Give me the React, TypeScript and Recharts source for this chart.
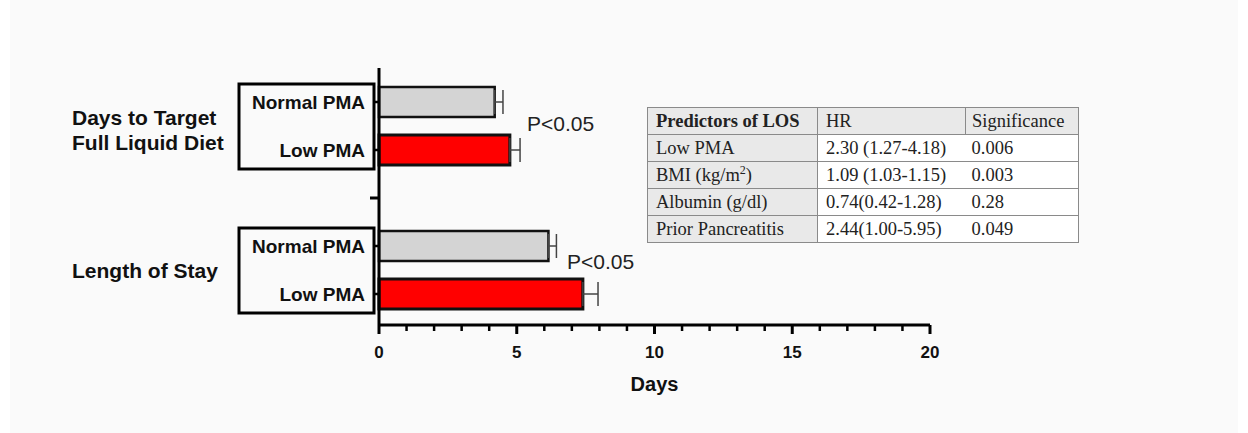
import React from "react";
import {
  BarChart,
  Bar,
  XAxis,
  YAxis,
  Cell,
  ErrorBar,
} from "recharts";

// rows top to bottom; the blank row separates the two outcome groups
const rowIds = ["dtfld-normal", "dtfld-low", "gap", "los-normal", "los-low"];
const rowLabels = ["Normal PMA", "Low PMA", "", "Normal PMA", "Low PMA"];
const meanDays = [4.2, 4.75, null, 6.15, 7.4];
const semDays = [0.3, 0.37, null, 0.29, 0.55];
const groupTitles: Record<number, string[]> = {
  0: ["Days to Target", "Full Liquid Diet"],
  3: ["Length of Stay"],
};
const dayTicks = [0, 1, 2, 3, 4, 5, 6, 7, 8, 9, 10, 11, 12, 13, 14, 15, 16, 17, 18, 19, 20];
const majorTicks = [0, 5, 10, 15, 20];
const pLabels = ["P<0.05", "P<0.05"];

const tableHeader = ["Predictors of LOS", "HR", "Significance"];
const tablePredictors = ["Low PMA", "BMI (kg/m²)", "Albumin (g/dl)", "Prior Pancreatitis"];
const tableHR = ["2.30 (1.27-4.18)", "1.09 (1.03-1.15)", "0.74(0.42-1.28)", "2.44(1.00-5.95)"];
const tableSig = ["0.006", "0.003", "0.28", "0.049"];

const data = rowIds.map((id, i) => ({
  id,
  days: meanDays[i],
  err: semDays[i] == null ? null : [0, semDays[i]],
}));

const SANS = "'Liberation Sans', Arial, sans-serif";
const SERIF = "'Liberation Serif', 'Times New Roman', serif";

function DayTick(props: any) {
  const { x, y, payload } = props;
  const major = majorTicks.includes(payload.value);
  return (
    <g>
      <line x1={x} y1={y} x2={x} y2={y + (major ? 9 : 6)} stroke="#000" strokeWidth={major ? 3 : 2.5} />
      {major && (
        <text x={x} y={y + 27} textAnchor="middle" dominantBaseline="central" fontFamily={SANS} fontWeight={700} fontSize={17} fill="#111">
          {payload.value}
        </text>
      )}
    </g>
  );
}

function RowTick(props: any) {
  const { x, y, index } = props;
  const label = rowLabels[index];
  const titles = groupTitles[index];
  if (!label) {
    return <line x1={x - 9} y1={y} x2={x} y2={y} stroke="#000" strokeWidth={3} />;
  }
  return (
    <g>
      {titles && (
        <g>
          <rect x={x - 140} y={y - 18} width={135} height={85} fill="none" stroke="#000" strokeWidth={3} />
          {titles.map((t, k) => (
            <text
              key={t}
              x={x - 307}
              y={y + 24 + (k - (titles.length - 1) / 2) * 25 + (titles.length > 1 ? 4 : 0)}
              dominantBaseline="central"
              fontFamily={SANS}
              fontWeight={700}
              fontSize={21}
              fill="#111"
            >
              {t}
            </text>
          ))}
        </g>
      )}
      <line x1={x - 5} y1={y} x2={x} y2={y} stroke="#000" strokeWidth={2.5} />
      <text x={x - 14} y={y} textAnchor="end" dominantBaseline="central" fontFamily={SANS} fontWeight={700} fontSize={19} fill="#111">
        {label}
      </text>
    </g>
  );
}

const cellStyle: React.CSSProperties = {
  border: "1px solid #8a8a8a",
  padding: "0 0 0 8px",
  height: 27,
  whiteSpace: "nowrap",
  overflow: "hidden",
  boxSizing: "border-box",
};

function PredictorTable() {
  return (
    <table
      style={{
        position: "absolute",
        left: 647,
        top: 107,
        width: 431,
        tableLayout: "fixed",
        borderCollapse: "collapse",
        fontFamily: SERIF,
        fontSize: 18.5,
        color: "#222",
        border: "1.5px solid #555",
      }}
    >
      <colgroup>
        <col style={{ width: 170 }} />
        <col style={{ width: 148 }} />
        <col style={{ width: 113 }} />
      </colgroup>
      <thead>
        <tr style={{ background: "#e9e9e9", height: 27 }}>
          <th style={{ ...cellStyle, textAlign: "left", fontWeight: 700 }}>{tableHeader[0]}</th>
          <th style={{ ...cellStyle, textAlign: "left", fontWeight: 400 }}>{tableHeader[1]}</th>
          <th style={{ ...cellStyle, textAlign: "left", fontWeight: 400, paddingLeft: 6 }}>{tableHeader[2]}</th>
        </tr>
      </thead>
      <tbody>
        {tablePredictors.map((p, i) => (
          <tr key={p} style={{ height: 27 }}>
            <td style={{ ...cellStyle, background: "#e9e9e9" }}>
              {p === "BMI (kg/m²)" ? (
                <span>
                  BMI (kg/m<sup style={{ fontSize: 12, lineHeight: 0 }}>2</sup>)
                </span>
              ) : (
                p
              )}
            </td>
            <td style={{ ...cellStyle, background: "#fff", borderRight: "none" }}>{tableHR[i]}</td>
            <td style={{ ...cellStyle, background: "#fff", borderLeft: "none", paddingLeft: 6 }}>{tableSig[i]}</td>
          </tr>
        ))}
      </tbody>
    </table>
  );
}

export default function App() {
  return (
    <div style={{ position: "absolute", left: 0, top: 0, width: 1248, height: 433, background: "#fff", overflow: "hidden" }}>
      <div style={{ position: "absolute", left: 10, top: 0, width: 1228, height: 433, background: "#fafafa" }} />
      <div style={{ position: "absolute", left: 0, top: 0 }}>
        <BarChart
          width={1248}
          height={433}
          data={data}
          layout="vertical"
          margin={{ top: 68, right: 318, bottom: 42, left: 0 }}
          barSize={30}
        >
          <XAxis
            type="number"
            domain={[0, 20]}
            ticks={dayTicks}
            interval={0}
            tick={<DayTick />}
            tickLine={false}
            tickSize={0}
            tickMargin={0}
            axisLine={{ stroke: "#000", strokeWidth: 3 }}
            height={66}
            label={{
              value: "Days",
              position: "insideBottom",
              offset: 0,
              style: { fontFamily: SANS, fontWeight: 700, fontSize: 20, fill: "#111" },
            }}
          />
          <YAxis
            type="category"
            dataKey="id"
            width={379}
            padding={{ top: 10, bottom: 7 }}
            interval={0}
            tick={<RowTick />}
            tickLine={false}
            tickSize={0}
            tickMargin={0}
            axisLine={{ stroke: "#000", strokeWidth: 3 }}
          />
          <Bar dataKey="days" isAnimationActive={false}>
            {data.map((d, i) => (
              <Cell
                key={d.id}
                fill={rowLabels[i] === "Low PMA" ? "#ff0000" : "#d4d4d4"}
                stroke="#111"
                strokeWidth={rowLabels[i] === "Low PMA" ? 3 : 2.5}
              />
            ))}
            <ErrorBar dataKey="err" direction="x" width={12} stroke="#444" strokeWidth={1.5} />
          </Bar>
        </BarChart>
      </div>
      <div style={{ position: "absolute", left: 527, top: 112, fontFamily: SANS, fontSize: 21, color: "#222" }}>{pLabels[0]}</div>
      <div style={{ position: "absolute", left: 567, top: 250, fontFamily: SANS, fontSize: 21, color: "#222" }}>{pLabels[1]}</div>
      <PredictorTable />
    </div>
  );
}
